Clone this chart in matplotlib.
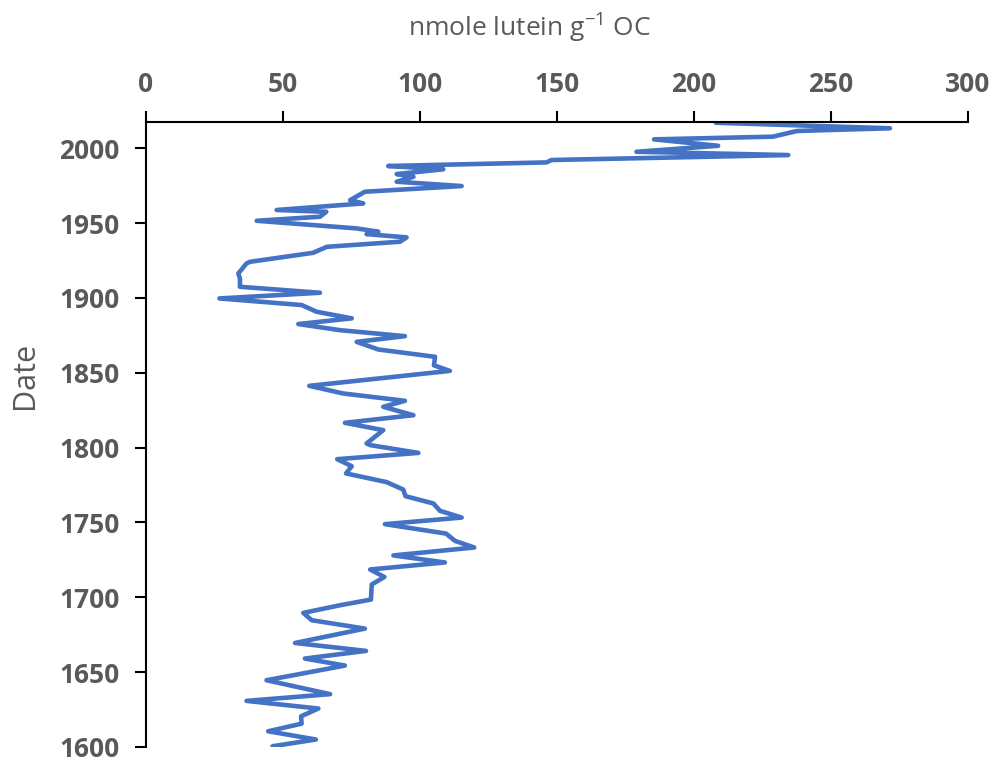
import matplotlib
matplotlib.use("Agg")
import matplotlib.pyplot as plt
from matplotlib import font_manager

# Data (top = most recent)
years = [2017.1, 2013.4, 2011.6, 2007.8, 2006.0, 2001.7, 1997.7, 1995.5, 1992.2, 1990.6,
         1988.2, 1986.0, 1982.8, 1981.0, 1977.7, 1974.8, 1971.0, 1965.4, 1963.2, 1958.8,
         1957.6, 1954.3, 1951.6, 1946.5, 1944.3, 1942.7, 1940.5, 1937.6, 1934.2, 1930.2,
         1924.2, 1923.1, 1916.4, 1913.0, 1907.5, 1903.5, 1899.7, 1895.3, 1890.8, 1886.4,
         1882.6, 1878.5, 1874.5, 1870.7, 1865.6, 1860.7, 1855.0, 1851.3, 1841.3, 1836.2,
         1831.3, 1827.3, 1821.7, 1816.6, 1811.7, 1802.8, 1801.7, 1796.5, 1792.3, 1787.6,
         1782.8, 1777.0, 1772.0, 1767.6, 1762.7, 1757.8, 1753.3, 1748.9, 1742.6, 1737.7,
         1733.3, 1728.0, 1723.3, 1718.6, 1713.6, 1708.6, 1698.5, 1694.7, 1689.6, 1684.7,
         1679.1, 1669.5, 1664.2, 1659.1, 1654.4, 1644.6, 1635.3, 1630.8, 1625.7, 1620.5,
         1615.6, 1610.5, 1605.0, 1600.5]
lutein = [208.0, 271.5, 237.6, 228.8, 185.4, 208.8, 179.0, 234.4, 148.0, 146.2,
          88.4, 108.5, 91.5, 97.6, 91.5, 115.2, 79.9, 74.5, 79.3, 47.7,
          65.8, 63.5, 40.4, 76.9, 84.8, 80.5, 95.1, 92.7, 66.0, 61.0,
          38.0, 36.7, 33.7, 34.3, 34.3, 63.5, 26.8, 56.8, 62.3, 75.1,
          55.6, 70.8, 94.5, 76.9, 84.8, 105.5, 105.1, 110.9, 59.6, 72.0,
          94.5, 86.6, 97.6, 72.6, 86.6, 80.5, 81.8, 99.4, 69.8, 75.1,
          73.0, 87.8, 93.9, 94.7, 104.9, 107.3, 115.2, 87.2, 109.5, 112.8,
          119.8, 90.3, 109.1, 81.8, 87.0, 82.4, 82.1, 70.8, 57.4, 60.5,
          79.9, 54.4, 80.3, 58.0, 72.6, 44.0, 67.2, 36.7, 62.9, 56.6,
          56.8, 44.6, 62.0, 46.2]

x_ticks = [0, 50, 100, 150, 200, 250, 300]
y_ticks = [1600, 1650, 1700, 1750, 1800, 1850, 1900, 1950, 2000]

avail = {f.name for f in font_manager.fontManager.ttflist}
label_font = "Open Sans" if "Open Sans" in avail else "DejaVu Sans"
plt.rcParams["mathtext.fontset"] = "custom"
plt.rcParams["mathtext.rm"] = label_font

grey = "#595959"
fig = plt.figure(figsize=(9.95, 7.62), dpi=100)
ax = fig.add_axes([0.1467, 0.0197, 0.8262, 0.8202])
ax.plot(lutein, years, color="#4472C4", lw=3.3, solid_joinstyle="round", solid_capstyle="round")

ax.set_xlim(0, 300)
ax.set_ylim(1600, 2017.6)
ax.xaxis.tick_top()
ax.xaxis.set_label_position("top")
ax.set_xticks(x_ticks)
ax.set_yticks(y_ticks)
ax.spines["right"].set_visible(False)
ax.spines["bottom"].set_visible(False)
for s in ("left", "top"):
    ax.spines[s].set_linewidth(1.5)
    ax.spines[s].set_color("black")
ax.tick_params(axis="both", direction="out", length=8, width=1.5, color="black",
               labelcolor=grey, labelsize=19)
ax.tick_params(axis="x", pad=9)
ax.tick_params(axis="y", pad=11)
for lab in ax.get_xticklabels() + ax.get_yticklabels():
    lab.set_fontfamily(label_font)
    lab.set_fontweight("bold")

xl = ax.set_xlabel("nmole lutein g$^{\\mathrm{-1}}$ OC", fontsize=19, color=grey, family=label_font)
ax.xaxis.set_label_coords(0.467, 1.152)
xl.set_va("center")
yl = ax.set_ylabel("Date", fontsize=22, color=grey, family=label_font)
ax.yaxis.set_label_coords(-0.147, 0.595)
yl.set_va("center")
yl.set_ha("center")

fig.savefig("out.png", dpi=100)
